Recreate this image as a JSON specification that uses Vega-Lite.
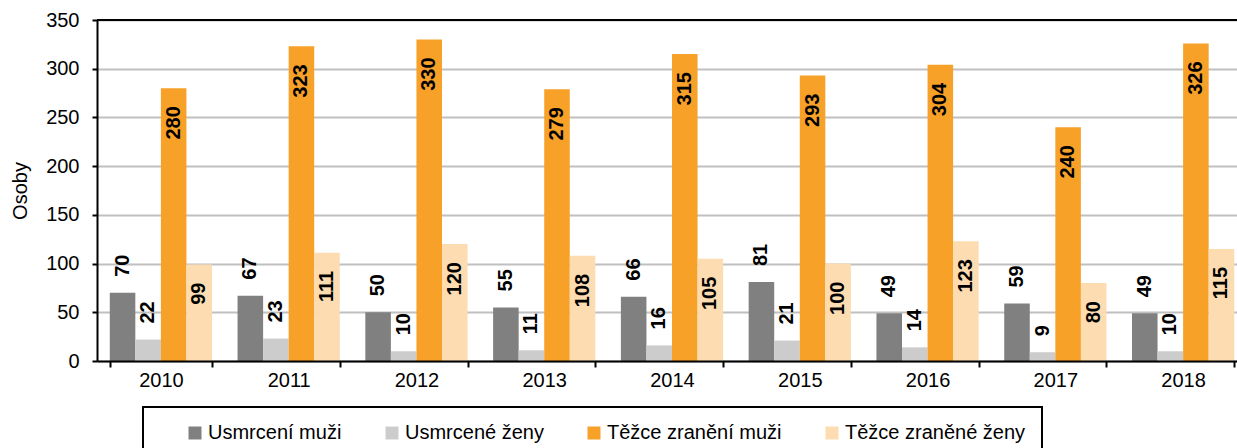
{
  "$schema": "https://vega.github.io/schema/vega-lite/v6.json",
  "width": 1140,
  "height": 341,
  "autosize": {"type": "none"},
  "padding": {"left": 97, "top": 20, "right": 0, "bottom": 87},
  "background": "white",
  "config": {"view": {"stroke": null}, "font": "Liberation Sans"},
  "data": {
    "values": [
      {"rok": "2010", "kategorie": "Usmrcení muži", "osoby": 70},
      {"rok": "2010", "kategorie": "Usmrcené ženy", "osoby": 22},
      {"rok": "2010", "kategorie": "Těžce zranění muži", "osoby": 280},
      {"rok": "2010", "kategorie": "Těžce zraněné ženy", "osoby": 99},
      {"rok": "2011", "kategorie": "Usmrcení muži", "osoby": 67},
      {"rok": "2011", "kategorie": "Usmrcené ženy", "osoby": 23},
      {"rok": "2011", "kategorie": "Těžce zranění muži", "osoby": 323},
      {"rok": "2011", "kategorie": "Těžce zraněné ženy", "osoby": 111},
      {"rok": "2012", "kategorie": "Usmrcení muži", "osoby": 50},
      {"rok": "2012", "kategorie": "Usmrcené ženy", "osoby": 10},
      {"rok": "2012", "kategorie": "Těžce zranění muži", "osoby": 330},
      {"rok": "2012", "kategorie": "Těžce zraněné ženy", "osoby": 120},
      {"rok": "2013", "kategorie": "Usmrcení muži", "osoby": 55},
      {"rok": "2013", "kategorie": "Usmrcené ženy", "osoby": 11},
      {"rok": "2013", "kategorie": "Těžce zranění muži", "osoby": 279},
      {"rok": "2013", "kategorie": "Těžce zraněné ženy", "osoby": 108},
      {"rok": "2014", "kategorie": "Usmrcení muži", "osoby": 66},
      {"rok": "2014", "kategorie": "Usmrcené ženy", "osoby": 16},
      {"rok": "2014", "kategorie": "Těžce zranění muži", "osoby": 315},
      {"rok": "2014", "kategorie": "Těžce zraněné ženy", "osoby": 105},
      {"rok": "2015", "kategorie": "Usmrcení muži", "osoby": 81},
      {"rok": "2015", "kategorie": "Usmrcené ženy", "osoby": 21},
      {"rok": "2015", "kategorie": "Těžce zranění muži", "osoby": 293},
      {"rok": "2015", "kategorie": "Těžce zraněné ženy", "osoby": 100},
      {"rok": "2016", "kategorie": "Usmrcení muži", "osoby": 49},
      {"rok": "2016", "kategorie": "Usmrcené ženy", "osoby": 14},
      {"rok": "2016", "kategorie": "Těžce zranění muži", "osoby": 304},
      {"rok": "2016", "kategorie": "Těžce zraněné ženy", "osoby": 123},
      {"rok": "2017", "kategorie": "Usmrcení muži", "osoby": 59},
      {"rok": "2017", "kategorie": "Usmrcené ženy", "osoby": 9},
      {"rok": "2017", "kategorie": "Těžce zranění muži", "osoby": 240},
      {"rok": "2017", "kategorie": "Těžce zraněné ženy", "osoby": 80},
      {"rok": "2018", "kategorie": "Usmrcení muži", "osoby": 49},
      {"rok": "2018", "kategorie": "Usmrcené ženy", "osoby": 10},
      {"rok": "2018", "kategorie": "Těžce zranění muži", "osoby": 326},
      {"rok": "2018", "kategorie": "Těžce zraněné ženy", "osoby": 115}
    ]
  },
  "layer": [
    {
      "mark": {"type": "bar"},
      "encoding": {
        "x": {
          "field": "rok", "type": "nominal",
          "scale": {"range": [0, 1150], "paddingInner": 0.2, "paddingOuter": 0.1},
          "axis": {
            "title": null, "labelAngle": 0, "labelFontSize": 20, "labelColor": "black",
            "labelFont": "Liberation Sans", "labelPadding": 3, "tickBand": "extent",
            "tickSize": 6, "tickColor": "black", "tickWidth": 2,
            "domainColor": "black", "domainWidth": 2, "zindex": 1
          }
        },
        "xOffset": {
          "field": "kategorie", "type": "nominal",
          "sort": ["Usmrcení muži", "Usmrcené ženy", "Těžce zranění muži", "Těžce zraněné ženy"],
          "scale": {"paddingInner": 0, "paddingOuter": 0}
        },
        "y": {
          "field": "osoby", "type": "quantitative",
          "scale": {"domain": [0, 350]},
          "axis": {
            "title": "Osoby", "titleFontSize": 20, "titleFontWeight": "normal", "titleColor": "black",
            "titleFont": "Liberation Sans",
            "titleX": -77, "titleY": 170.5, "titleAngle": 270, "titleAlign": "center", "titleBaseline": "middle",
            "values": [0, 50, 100, 150, 200, 250, 300, 350],
            "labelFontSize": 20, "labelColor": "black", "labelFont": "Liberation Sans", "labelPadding": 13,
            "tickSize": 5, "tickColor": "black", "tickWidth": 2,
            "domainColor": "black", "domainWidth": 2,
            "gridColor": "#c0c0c0", "gridWidth": 2
          }
        },
        "color": {
          "field": "kategorie", "type": "nominal",
          "sort": ["Usmrcení muži", "Usmrcené ženy", "Těžce zranění muži", "Těžce zraněné ženy"],
          "scale": {
            "domain": ["Usmrcení muži", "Usmrcené ženy", "Těžce zranění muži", "Těžce zraněné ženy"],
            "range": ["#808080", "#cccccc", "#f8a128", "#fcdcb0"]
          },
          "legend": {
            "orient": "none", "legendX": 46, "legendY": 387, "direction": "horizontal", "columns": 4,
            "title": "\u00a0", "titleOrient": "left", "titleFontSize": 1, "titlePadding": 26,
            "padding": 16, "strokeColor": "black", "columnPadding": 40,
            "symbolType": "square", "symbolSize": 169, "symbolStrokeWidth": 0, "symbolOpacity": 1,
            "labelFontSize": 20, "labelColor": "black", "labelFont": "Liberation Sans",
            "labelOffset": 3, "labelLimit": 300,
            "encode": {"legend": {"update": {"strokeWidth": {"value": 2}}}}
          }
        }
      }
    },
    {
      "transform": [{"filter": "datum.kategorie == 'Usmrcení muži' || datum.kategorie == 'Usmrcené ženy'"}],
      "mark": {"type": "text", "angle": 270, "align": "left", "baseline": "middle", "dx": 16,
               "font": "Liberation Sans", "fontSize": 20, "fontWeight": "bold", "color": "black"},
      "encoding": {
        "x": {"field": "rok", "type": "nominal"},
        "xOffset": {"field": "kategorie", "type": "nominal",
          "sort": ["Usmrcení muži", "Usmrcené ženy", "Těžce zranění muži", "Těžce zraněné ženy"]},
        "y": {"field": "osoby", "type": "quantitative"},
        "text": {"field": "osoby", "type": "quantitative"}
      }
    },
    {
      "transform": [{"filter": "datum.kategorie == 'Těžce zranění muži' || datum.kategorie == 'Těžce zraněné ženy'"}],
      "mark": {"type": "text", "angle": 270, "align": "right", "baseline": "middle", "dx": -18,
               "font": "Liberation Sans", "fontSize": 20, "fontWeight": "bold", "color": "black"},
      "encoding": {
        "x": {"field": "rok", "type": "nominal"},
        "xOffset": {"field": "kategorie", "type": "nominal",
          "sort": ["Usmrcení muži", "Usmrcené ženy", "Těžce zranění muži", "Těžce zraněné ženy"]},
        "y": {"field": "osoby", "type": "quantitative"},
        "text": {"field": "osoby", "type": "quantitative"}
      }
    },
    {
      "data": {"values": [{}]},
      "mark": {"type": "rule", "color": "black", "strokeWidth": 2},
      "encoding": {"y": {"datum": 350}}
    }
  ]
}
